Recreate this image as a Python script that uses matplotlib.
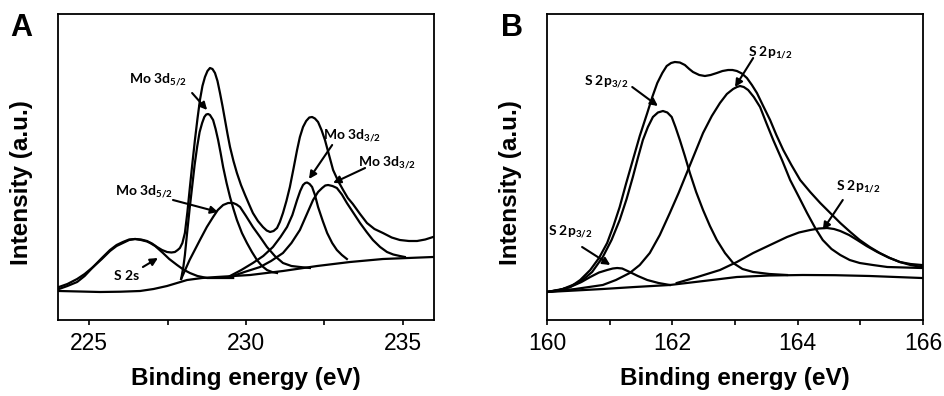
import numpy as np
import matplotlib.pyplot as plt

plt.rcParams['font.family'] = ['Liberation Sans', 'DejaVu Sans']
plt.rcParams['mathtext.fontset'] = 'custom'
plt.rcParams['mathtext.rm'] = 'Lato:bold'
plt.rcParams['mathtext.bf'] = 'Lato:bold'
plt.rcParams['mathtext.it'] = 'Lato:bold:italic'

# ---- panel A : Mo 3d / S 2s region (a.u.) ----
a_env_x = [224.03, 224.3, 224.61, 224.85, 225.12, 225.4, 225.66, 225.87, 226.07, 226.27,
           226.46, 226.65, 226.84, 227.0, 227.16, 227.32, 227.48, 227.62, 227.73, 227.82,
           227.89, 227.97, 228.05, 228.13, 228.21, 228.29, 228.37, 228.45, 228.53, 228.61,
           228.69, 228.77, 228.85, 228.93, 229.01, 229.09, 229.17, 229.25, 229.33, 229.41,
           229.49, 229.6, 229.71, 229.84, 229.97, 230.1, 230.22, 230.38, 230.54, 230.66,
           230.77, 230.88, 230.99, 231.08, 231.18, 231.29, 231.40, 231.52, 231.63, 231.72,
           231.82, 231.92, 232.02, 232.11, 232.2, 232.30, 232.41, 232.52, 232.65, 232.78,
           232.94, 233.10, 233.25, 233.41, 233.64, 233.86, 234.1, 234.37, 234.65, 234.91,
           235.2, 235.46, 235.72, 235.97]
a_env_y = [31, 34, 38, 44, 53, 62, 70, 75, 78, 80.5,
           81, 80.5, 79, 76.5, 73, 70, 68, 67.5, 68, 70,
           72, 77, 87, 108, 133, 157, 180, 201, 220, 234,
           243, 249, 252, 251, 247, 239, 227, 214, 200, 186,
           173, 159, 147, 135, 125, 115.5, 107, 99, 93, 89.5,
           88, 89, 92, 98, 107, 119, 133, 152, 170, 183,
           193, 199, 202.5, 203, 201.5, 198, 190, 180, 165, 150,
           139, 130, 122, 116, 106, 97, 91, 87, 82.5, 80,
           79, 79, 80.5, 83]

a_s2s_x = [224.03, 224.3, 224.61, 224.85, 225.12, 225.4, 225.66, 225.87, 226.07, 226.27,
           226.46, 226.65, 226.84, 226.94, 227.1, 227.35, 227.55, 227.80, 228.0, 228.21,
           228.45, 228.76, 229.59]
a_s2s_y = [33, 36, 41, 46, 53, 61, 69, 74, 77, 80,
           81, 80, 78.5, 77, 74, 67, 61, 55, 50.5, 47,
           44, 42, 42]

a_mo52n_x = [227.93, 228.0, 228.05, 228.12, 228.2, 228.28, 228.36, 228.44, 228.52, 228.60,
             228.67, 228.73, 228.79, 228.85, 228.91, 228.95, 229.03, 229.11, 229.19, 229.27,
             229.38, 229.49, 229.6, 229.71, 229.87, 230.03, 230.19, 230.35, 230.51, 230.67,
             230.83, 230.99]
a_mo52n_y = [41, 53, 65, 87, 111, 133, 155, 173, 188, 197,
             203, 205.5, 206, 205, 202, 200, 191, 180, 167, 153,
             137, 123, 111, 100, 87, 77, 68, 60, 54, 50,
             48, 47]

a_mo52b_x = [227.93, 228.2, 228.53, 228.75, 228.95, 229.1, 229.27, 229.43, 229.59, 229.7,
             229.81, 230.0, 230.22, 230.45, 230.67, 230.92, 231.18, 231.45, 231.72, 232.04]
a_mo52b_y = [41, 60, 80, 93, 103, 110, 115, 117, 117, 115.5,
             113, 104, 93, 83, 73, 64, 57, 54, 53, 52]

a_mo32n_x = [229.49, 229.85, 230.22, 230.55, 230.86, 231.1, 231.31, 231.48, 231.63, 231.73,
             231.82, 231.89, 231.95, 232.03, 232.11, 232.2, 232.30, 232.45, 232.59, 232.75,
             232.90, 233.06, 233.22]
a_mo32n_y = [44, 50, 57, 64, 73, 83, 93, 105, 120, 129,
             135, 137, 137.5, 136, 133, 125, 113, 99, 87, 77,
             70, 65, 61]

a_mo32b_x = [229.49, 229.95, 230.45, 230.8, 231.18, 231.45, 231.72, 231.93, 232.14, 232.3,
             232.43, 232.53, 232.62, 232.76, 232.90, 233.06, 233.22, 233.43, 233.64, 233.85,
             234.05, 234.28, 234.50, 234.7, 234.91, 235.07]
a_mo32b_y = [43, 48, 53, 59, 67, 77, 90, 105, 120, 128,
             132, 134.5, 135, 134, 132, 125.5, 117, 107, 97, 88,
             80, 73, 68, 65.5, 64, 63]

a_bg_x = [224.03, 224.7, 225.34, 226.0, 226.62, 227.05, 227.48, 227.8, 228.12, 228.6,
          229.07, 230.13, 231.18, 232.27, 233.32, 234.37, 235.97]
a_bg_y = [29, 28.5, 28, 28.3, 29, 31, 34, 37, 40, 42,
          43, 45, 49, 54, 58, 61, 63]

# ---- panel B : S 2p region ----
b_env_x = [160.00, 160.2, 160.37, 160.53, 160.69, 160.83, 160.96, 161.06, 161.16, 161.26,
           161.37, 161.48, 161.60, 161.68, 161.76, 161.84, 161.91, 161.98, 162.04, 162.12,
           162.20, 162.27, 162.33, 162.43, 162.52, 162.61, 162.71, 162.8, 162.89, 162.96,
           163.03, 163.11, 163.19, 163.27, 163.35, 163.45, 163.56, 163.66, 163.77, 163.9,
           164.04, 164.2, 164.36, 164.52, 164.68, 164.84, 164.99, 165.15, 165.31, 165.47,
           165.63, 165.8, 165.98]
b_env_y = [28, 30, 33, 40, 50, 62, 77, 94, 113, 136,
           160, 184, 207, 223, 237, 247, 254, 257, 258, 257.5,
           255, 251, 248, 245, 244, 245, 247, 249, 250, 250,
           249, 246.5, 242, 235, 227, 214, 200, 185, 170, 155,
           140, 128, 117, 107, 97, 88, 80, 73, 67, 62,
           58, 56, 55]

b_p32_x = [160.00, 160.25, 160.53, 160.72, 160.89, 161.03, 161.16, 161.27, 161.37, 161.45,
           161.53, 161.61, 161.69, 161.77, 161.85, 161.92, 161.99, 162.05, 162.12, 162.2,
           162.28, 162.38, 162.49, 162.6, 162.71, 162.84, 162.97, 163.12, 163.29, 163.55,
           163.83]
b_p32_y = [28, 31, 38, 48, 63, 80, 100, 121, 143, 162,
           180, 193, 203, 207.5, 209, 207.5, 203, 193, 180, 164,
           147, 128, 110, 94, 80, 67, 57, 51, 48, 46,
           45]

b_p12_x = [160.00, 160.45, 160.89, 161.1, 161.32, 161.48, 161.64, 161.8, 161.96, 162.1,
           162.23, 162.36, 162.49, 162.63, 162.76, 162.87, 162.97, 163.03, 163.08, 163.14,
           163.21, 163.3, 163.40, 163.5, 163.61, 163.75, 163.88, 164.02, 164.15, 164.28,
           164.40, 164.54, 164.68, 164.83, 164.99, 165.2, 165.43, 165.98]
b_p12_y = [28, 31, 35, 40, 47, 55, 67, 85, 107, 127,
           147, 167, 187, 204, 217, 226, 231, 233, 234, 233,
           230, 223, 213, 197, 180, 160, 140, 123, 107, 92,
           80, 71, 65, 60, 57, 55, 53, 52]

b_p32s_x = [160.00, 160.2, 160.37, 160.55, 160.69, 160.83, 160.96, 161.05, 161.12, 161.2,
            161.32, 161.45, 161.60, 161.78, 161.96]
b_p32s_y = [28, 30, 33, 38, 43, 47.5, 50, 51.5, 52, 51.5,
            48, 44, 40, 37, 35]

b_p12s_x = [162.07, 162.4, 162.76, 163.03, 163.29, 163.56, 163.83, 164.02, 164.20, 164.34,
            164.47, 164.58, 164.68, 164.82, 164.95, 165.1, 165.27, 165.45, 165.63, 165.8,
            165.98]
b_p12s_y = [37, 43, 50, 58, 67, 75, 83, 87.5, 90, 91.5,
            92, 91, 89, 85, 80, 74, 68, 62.5, 58, 55,
            53]

b_bg_x = [160.00, 160.45, 160.89, 161.4, 161.96, 162.5, 163.03, 163.55, 164.08, 164.6,
          165.15, 165.98]
b_bg_y = [28, 29.5, 31, 33, 35, 39, 43, 44.5, 45, 44.8, 44, 42]

# labels: text, text position, arrow tail, arrow head
a_notes = [('Mo 3d$_{5/2}$', (227.19, 240), (228.28, 227), (228.76, 210)),
           ('Mo 3d$_{5/2}$', (226.74, 128), (227.67, 120), (229.11, 108)),
           ('S 2s', (226.20, 44), (226.71, 53), (227.19, 62)),
           ('Mo 3d$_{3/2}$', (233.38, 184), (232.75, 175), (232.01, 141)),
           ('Mo 3d$_{3/2}$', (234.50, 157), (233.80, 152), (232.78, 137))]
b_notes = [('S 2p$_{3/2}$', (160.94, 238), (161.36, 233), (161.77, 214)),
           ('S 2p$_{1/2}$', (163.57, 267), (163.29, 262), (163.00, 233)),
           ('S 2p$_{3/2}$', (160.37, 88), (160.56, 73), (161.01, 55)),
           ('S 2p$_{1/2}$', (164.96, 133), (164.72, 120), (164.40, 90))]


def draw_panel(ax, curves, notes, xlim, major, minor):
    for x, y in curves:
        ax.plot(x, y, color='black', lw=1.6, solid_joinstyle='round')
    for txt, pos, tail, head in notes:
        ax.text(pos[0], pos[1], txt, fontsize=10, family='Lato', fontweight='bold',
                ha='center', va='center')
        ax.annotate('', xy=head, xytext=tail,
                    arrowprops=dict(arrowstyle='-|>', color='black', lw=1.5,
                                    mutation_scale=11, shrinkA=0, shrinkB=0))
    ax.set_xlim(xlim)
    ax.set_ylim(0, 306)
    ax.set_xticks(major)
    ax.set_xticks(minor, minor=True)
    ax.set_yticks([])
    ax.tick_params(axis='x', which='both', direction='out', length=3.5, width=1.2,
                   labelsize=16.5, pad=5)
    for s in ax.spines.values():
        s.set_linewidth(1.3)
    ax.set_xlabel('Binding energy (eV)', fontsize=17.5, fontweight='bold')
    ax.xaxis.set_label_coords(0.5, -0.155)
    ax.set_ylabel('Intensity (a.u.)', fontsize=17.5, fontweight='bold', va='center')
    ax.yaxis.set_label_coords(-0.096, 0.45)


fig = plt.figure(figsize=(9.45, 3.96), dpi=100)
axA = fig.add_axes([58 / 945, 76 / 396, 376 / 945, 306 / 396])
axB = fig.add_axes([547 / 945, 76 / 396, 376 / 945, 306 / 396])

draw_panel(axA, [(a_bg_x, a_bg_y), (a_s2s_x, a_s2s_y), (a_mo52n_x, a_mo52n_y),
                 (a_mo52b_x, a_mo52b_y), (a_mo32n_x, a_mo32n_y), (a_mo32b_x, a_mo32b_y),
                 (a_env_x, a_env_y)],
           a_notes, (224, 236), [225, 230, 235], [227.5, 232.5])
draw_panel(axB, [(b_bg_x, b_bg_y), (b_p32s_x, b_p32s_y), (b_p32_x, b_p32_y),
                 (b_p12_x, b_p12_y), (b_p12s_x, b_p12s_y), (b_env_x, b_env_y)],
           b_notes, (160, 166), [160, 162, 164, 166], [161, 163, 165])

fig.text(10 / 945, 1 - 13 / 396, 'A', fontsize=22, fontweight='bold', ha='left', va='top')
fig.text(501 / 945, 1 - 13 / 396, 'B', fontsize=22, fontweight='bold', ha='left', va='top')

fig.savefig('out.png', dpi=100)
